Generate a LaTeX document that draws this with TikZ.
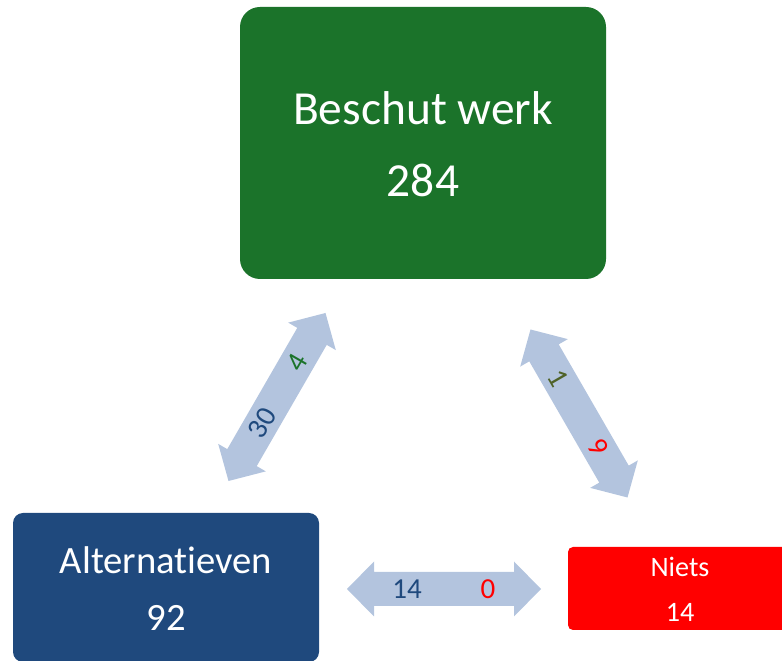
\documentclass[tikz,border=0pt]{standalone}
\usepackage{fontspec}
\setmainfont[Ligatures=NoCommon]{Carlito}
\definecolor{werkgreen}{RGB}{27,115,42}
\definecolor{altblue}{RGB}{31,73,125}
\definecolor{pijlblue}{RGB}{179,196,222}
\definecolor{darkolive}{RGB}{79,98,40}
\def\blockarrow(#1)(#2){\fill[pijlblue, shift={(#1)}, rotate=#2] (-1.94, 0) -- (-1.40, 0.55) -- (-1.40, 0.34) -- (1.40, 0.34) -- (1.40, 0.55) -- (1.94, 0) -- (1.40, -0.55) -- (1.40, -0.34) -- (-1.40, -0.34) -- (-1.40, -0.55) -- cycle;}
\tikzset{
	box/.style={rectangle, draw=none, inner sep=0pt},
	boxtext/.style={text=white, inner sep=1pt},
	count/.style={inner sep=0pt, font=\fontsize{16.5}{18}\selectfont},
}

\begin{document}
\begin{tikzpicture}
			%%%%% START %%%%%
			\useasboundingbox (0, 0) rectangle (15.64, 13.22);
			
			\node[box, fill=werkgreen, rounded corners=0.4cm, minimum width=7.32cm, minimum height=5.44cm] (werk) at (8.46, 10.36) {};
			\node[boxtext, font=\fontsize{27}{32}\selectfont] (werkname) at (8.46, 11.06) {Beschut werk};
			\node[boxtext, font=\fontsize{27}{32}\selectfont] (werknum) at (8.46, 9.62) {284};
			
			\node[box, fill=altblue, rounded corners=0.2cm, minimum width=6.12cm, minimum height=2.98cm] (alt) at (3.32, 1.47) {};
			\node[boxtext, font=\fontsize{22}{26}\selectfont] (altname) at (3.32, 2.02) {Alternatieven};
			\node[boxtext, font=\fontsize{22}{26}\selectfont] (altnum) at (3.32, 0.86) {92};
			
			\node[box, fill=red, rounded corners=0.1cm, minimum width=4.48cm, minimum height=1.66cm] (niets) at (13.6, 1.45) {};
			\node[boxtext, font=\fontsize{16}{18}\selectfont] (nietsname) at (13.6, 1.88) {Niets};
			\node[boxtext, font=\fontsize{16}{18}\selectfont] (nietsnum) at (13.6, 0.98) {14};
			
			\blockarrow(5.54, 5.28)(60);
			\node[count, text=altblue, rotate=60] (aw) at (5.24, 4.76) {30};
			\node[count, text=werkgreen, rotate=60] (wa) at (5.95, 5.98) {4};
			
			\blockarrow(11.58, 4.95)(-60);
			\node[count, text=darkolive, rotate=-60] (wn) at (11.16, 5.66) {1};
			\node[count, text=red, rotate=-60] (nw) at (11.96, 4.28) {9};
			
			\blockarrow(8.88, 1.44)(0);
			\node[count, text=altblue] (an) at (8.14, 1.44) {14};
			\node[count, text=red] (na) at (9.76, 1.44) {0};
			
			%%%%% END %%%%%
\end{tikzpicture}
\end{document}
